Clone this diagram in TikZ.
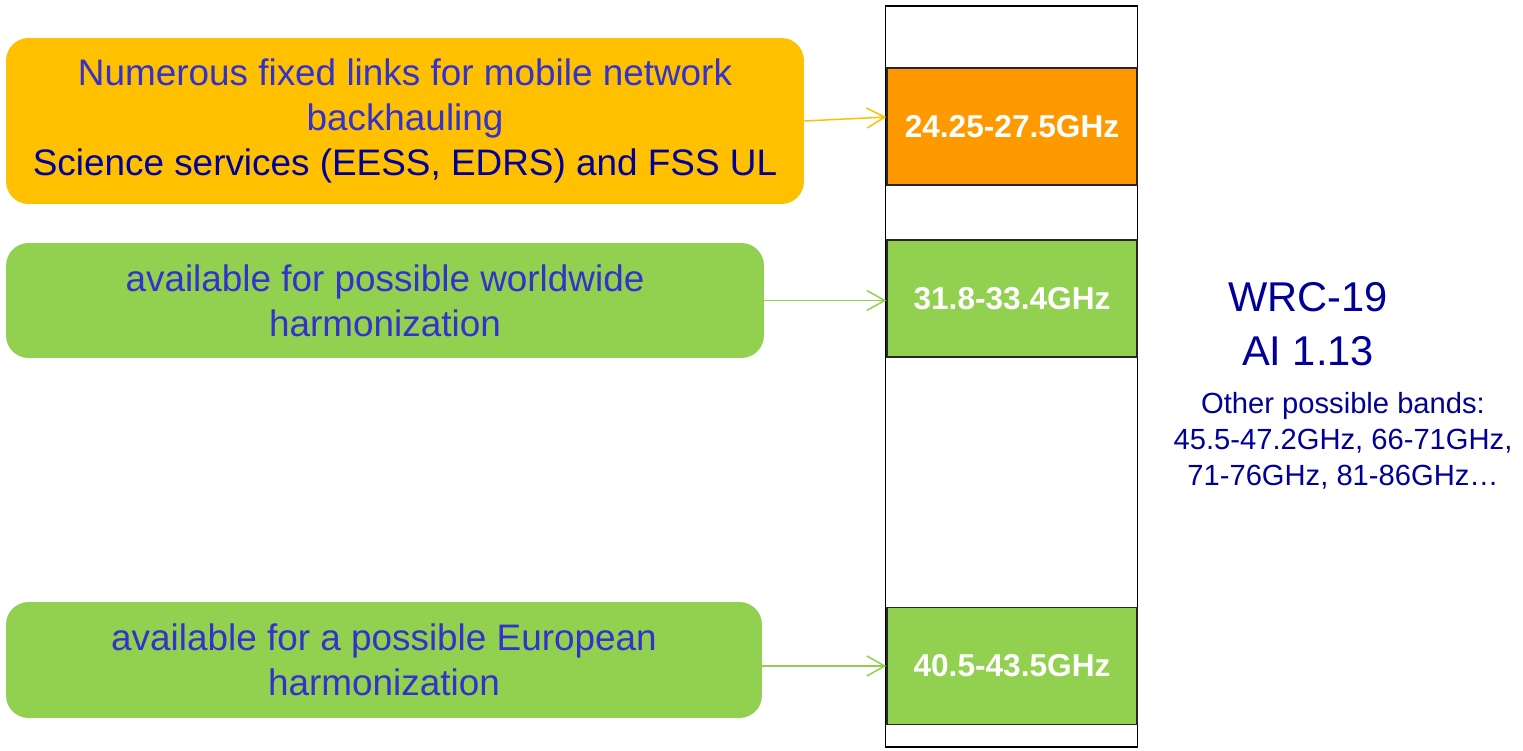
\documentclass[tikz,border=0pt]{standalone}
\usepackage{fontspec}
\setmainfont{Liberation Sans}
\usetikzlibrary{arrows.meta}
\definecolor{BandOrange}{HTML}{FF9900}
\definecolor{BandGreen}{HTML}{92D050}
\definecolor{NoteYellow}{HTML}{FFC000}
\definecolor{TextBlue}{HTML}{3333CC}
\definecolor{TextNavy}{HTML}{000099}
\definecolor{BandBorder}{HTML}{262626}

\begin{document}
\begin{tikzpicture}[
  x=0.02cm,y=-0.02cm,
  link/.style={-{Straight Barb[length=3.6mm,width=4mm]},line width=0.85pt},
  band/.style={draw=BandBorder,line width=0.8pt,minimum width=5cm,minimum height=2.34cm,inner sep=0pt,text=white,font=\fontsize{18}{21}\selectfont\bfseries},
  usage/.style={rounded corners=0.45cm,inner sep=0pt,align=center,text=TextBlue,font=\fontsize{21}{25.5}\selectfont},
  wrc/.style={text=TextNavy,align=center,inner sep=0pt}
]
\useasboundingbox (0,0) rectangle (1523,750);

% Spectrum strip.
\node[draw,line width=1pt,minimum width=5.04cm,minimum height=14.82cm,inner sep=0pt] (strip) at (1011.5,376.5) {};
\node[band,fill=BandOrange] (b24) at (1012,126.5) {24.25-27.5GHz};
\node[band,fill=BandGreen] (b31) at (1012,298.5) {31.8-33.4GHz};
\node[band,fill=BandGreen] (b40) at (1012,666) {40.5-43.5GHz};

% Usage boxes.
\node[usage,fill=NoteYellow,minimum width=15.96cm,minimum height=3.32cm] (fixed) at (405,121)
  {Numerous fixed links for mobile network\\backhauling\\\textcolor{TextNavy}{Science services (EESS, EDRS) and FSS UL}};
\node[usage,fill=BandGreen,minimum width=15.16cm,minimum height=2.3cm] (world) at (385,300.5)
  {available for possible worldwide\\harmonization};
\node[usage,fill=BandGreen,minimum width=15.12cm,minimum height=2.32cm] (europe) at (384,660)
  {available for a possible European\\harmonization};

\draw[link,draw=NoteYellow] (fixed.east) -- ([yshift=0.19cm]b24.west);
\draw[link,draw=BandGreen] (world.east) -- (world.east -| b31.west);
\draw[link,draw=BandGreen] (europe.east |- b40.west) -- (b40.west);

% WRC note.
\node[wrc,font=\fontsize{23.7}{31}\selectfont] (wrc) at (1308,324) {WRC-19\\AI 1.13};
\node[wrc,font=\fontsize{16.6}{20.4}\selectfont] (others) at (1343,441)
  {Other possible bands:\\45.5-47.2GHz, 66-71GHz,\\71-76GHz, 81-86GHz…};
\end{tikzpicture}
\end{document}
